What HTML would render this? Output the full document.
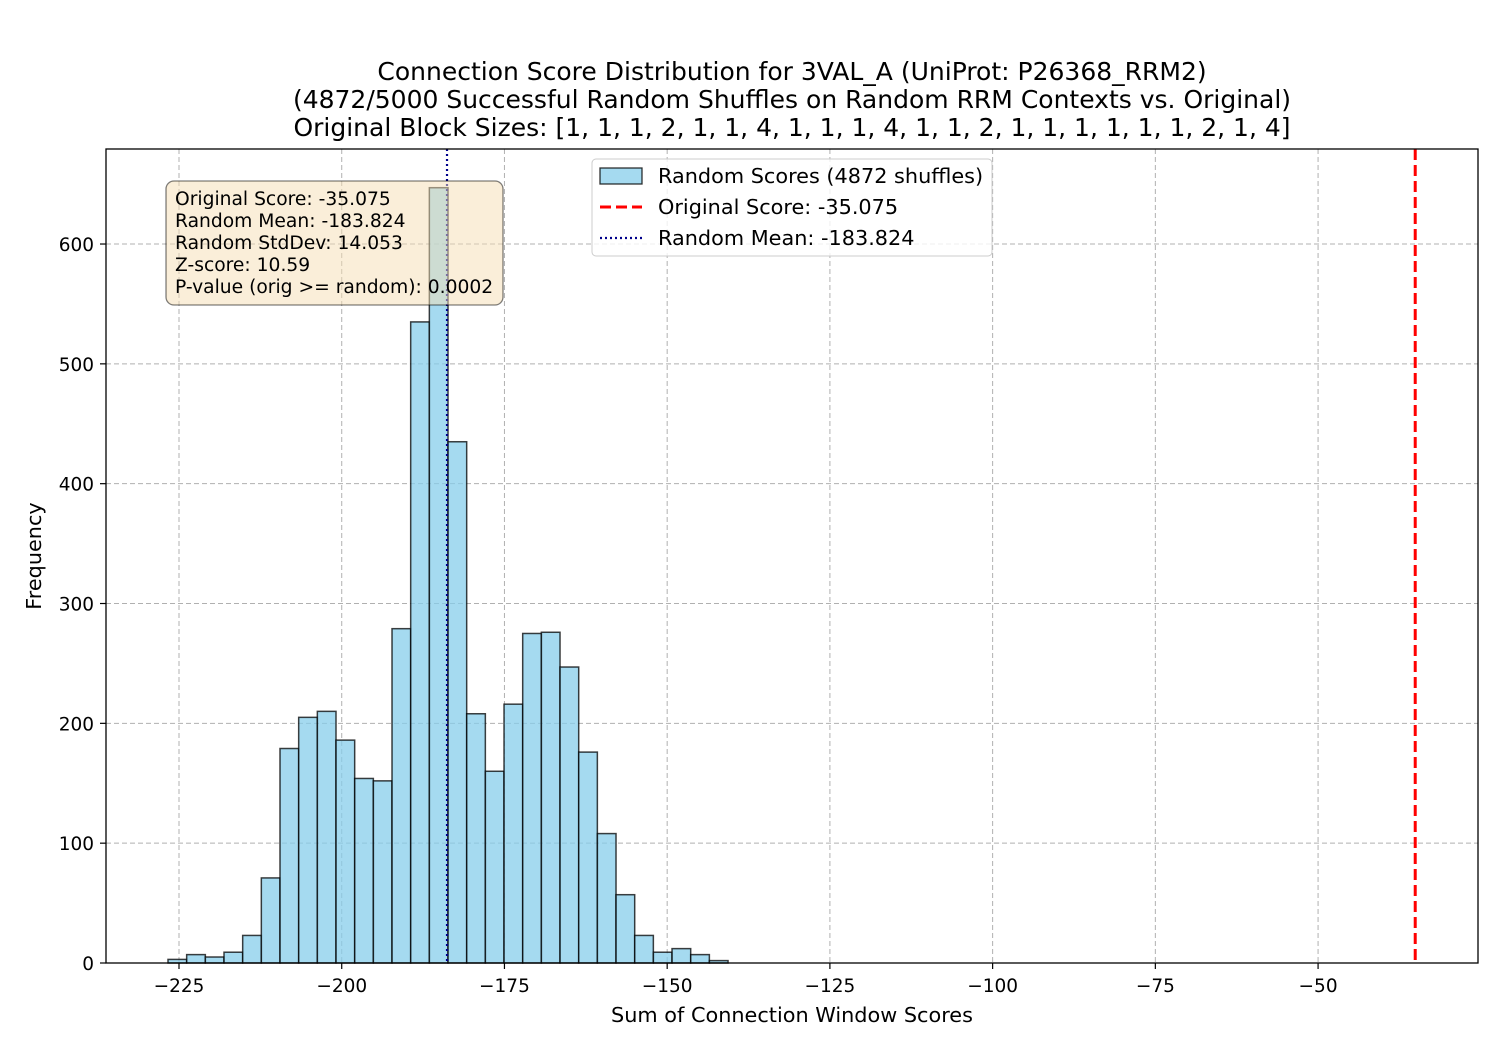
<!DOCTYPE html>
<html><head><meta charset="utf-8"><style>
body{margin:0;background:#fff;font-family:"Liberation Sans","DejaVu Sans",sans-serif}
</style></head><body>
<svg id="chart" width="1500" height="1050" xmlns="http://www.w3.org/2000/svg" font-family="DejaVu Sans, Liberation Sans, sans-serif">
<rect width="1500" height="1050" fill="#fff"/>
<g font-size="25" text-anchor="middle" fill="#000">
<text x="792" y="80">Connection Score Distribution for 3VAL_A (UniProt: P26368_RRM2)</text>
<text x="792" y="108">(4872/5000 Successful Random Shuffles on Random RRM Contexts vs. Original)</text>
<text x="792" y="136">Original Block Sizes: [1, 1, 1, 2, 1, 1, 4, 1, 1, 1, 4, 1, 1, 2, 1, 1, 1, 1, 1, 1, 2, 1, 4]</text>
</g>
<g id="grid"></g>
<g id="bars"></g>
<g id="lines"></g>
<rect x="106" y="149" width="1372" height="814" fill="none" stroke="#000" stroke-width="1.3"/>
<g id="ticks" font-size="18.5" fill="#000"></g>
<text x="792" y="1022" font-size="20.8" text-anchor="middle">Sum of Connection Window Scores</text>
<text x="0" y="0" font-size="20.8" text-anchor="middle" transform="translate(41,556) rotate(-90)">Frequency</text>
<g>
<rect x="166" y="181" width="337" height="124" rx="8" fill="rgb(245,222,179)" fill-opacity="0.5" stroke="#000" stroke-opacity="0.5" stroke-width="1.3"/>
<g font-size="18.7" fill="#000">
<text x="175" y="205">Original Score: -35.075</text>
<text x="175" y="227">Random Mean: -183.824</text>
<text x="175" y="249">Random StdDev: 14.053</text>
<text x="175" y="271">Z-score: 10.59</text>
<text x="175" y="293">P-value (orig &gt;= random): 0.0002</text>
</g></g>
<g>
<rect x="592" y="159" width="400" height="97" rx="4" fill="#fff" fill-opacity="0.8" stroke="#ccc"/>
<rect x="600" y="168" width="42" height="16" fill="#87ceeb" fill-opacity="0.75" stroke="#000" stroke-opacity="0.8" stroke-width="1.3"/>
<line x1="600" y1="207" x2="642" y2="207" stroke="#f00" stroke-width="3" stroke-dasharray="11,5"/>
<line x1="600" y1="238" x2="642" y2="238" stroke="#00008b" stroke-width="2.2" stroke-dasharray="2,3"/>
<g font-size="20.8" fill="#000">
<text x="658" y="183">Random Scores (4872 shuffles)</text>
<text x="658" y="214">Original Score: -35.075</text>
<text x="658" y="245">Random Mean: -183.824</text>
</g></g>
<script>
const counts=[3,7,5,9,23,71,179,205,210,186,154,152,279,535,647,435,208,160,216,275,276,247,176,108,57,23,9,12,7,2];
const binStart=-226.69, binWidth=2.868;
const xTicks=[-225,-200,-175,-150,-125,-100,-75,-50];
const yTicks=[0,100,200,300,400,500,600];
const originalScore=-35.075, randomMean=-183.824;
const NS='http://www.w3.org/2000/svg';
const X=v=>179+(v+225)*6.509;
const Y=v=>963-v*1.1983;
function mk(p,t,a){const e=document.createElementNS(NS,t);for(const k in a)e.setAttribute(k,a[k]);document.getElementById(p).appendChild(e);return e;}
xTicks.forEach(t=>{
 const g=mk('grid','line',{x1:X(t),x2:X(t),y1:149,y2:963,stroke:'#b0b0b0','stroke-width':1,'stroke-dasharray':'5,3'});
 
 
 mk('ticks','line',{x1:X(t),x2:X(t),y1:963,y2:969,stroke:'#000','stroke-width':1.2});
 const tx=mk('ticks','text',{x:X(t),y:992,'text-anchor':'middle'});tx.textContent=String(t).replace('-','\u2212');
 
 
});
yTicks.forEach(t=>{
 const g=mk('grid','line',{x1:106,x2:1478,y1:Y(t),y2:Y(t),stroke:'#b0b0b0','stroke-width':1,'stroke-dasharray':'5,3'});
 
 
 mk('ticks','line',{x1:100,x2:106,y1:Y(t),y2:Y(t),stroke:'#000','stroke-width':1.2});
 const tx=mk('ticks','text',{x:94,y:Y(t)+7,'text-anchor':'end'});tx.textContent=t;
 
 
});
counts.forEach((c,i)=>{
 const x0=X(binStart+i*binWidth),x1=X(binStart+(i+1)*binWidth);
 const r=mk('bars','rect',{x:x0,y:Y(c),width:x1-x0,height:963-Y(c),fill:'#87ceeb','fill-opacity':0.75,stroke:'#000','stroke-opacity':0.75,'stroke-width':1.5});
 
 
});
const l1=mk('lines','line',{x1:X(originalScore),x2:X(originalScore),y1:149,y2:963,stroke:'#f00','stroke-width':3,'stroke-dasharray':'11,5'});


const l2=mk('lines','line',{x1:X(randomMean),x2:X(randomMean),y1:149,y2:963,stroke:'#00008b','stroke-width':2.2,'stroke-dasharray':'2,3'});


</script>
</svg>
</body></html>
